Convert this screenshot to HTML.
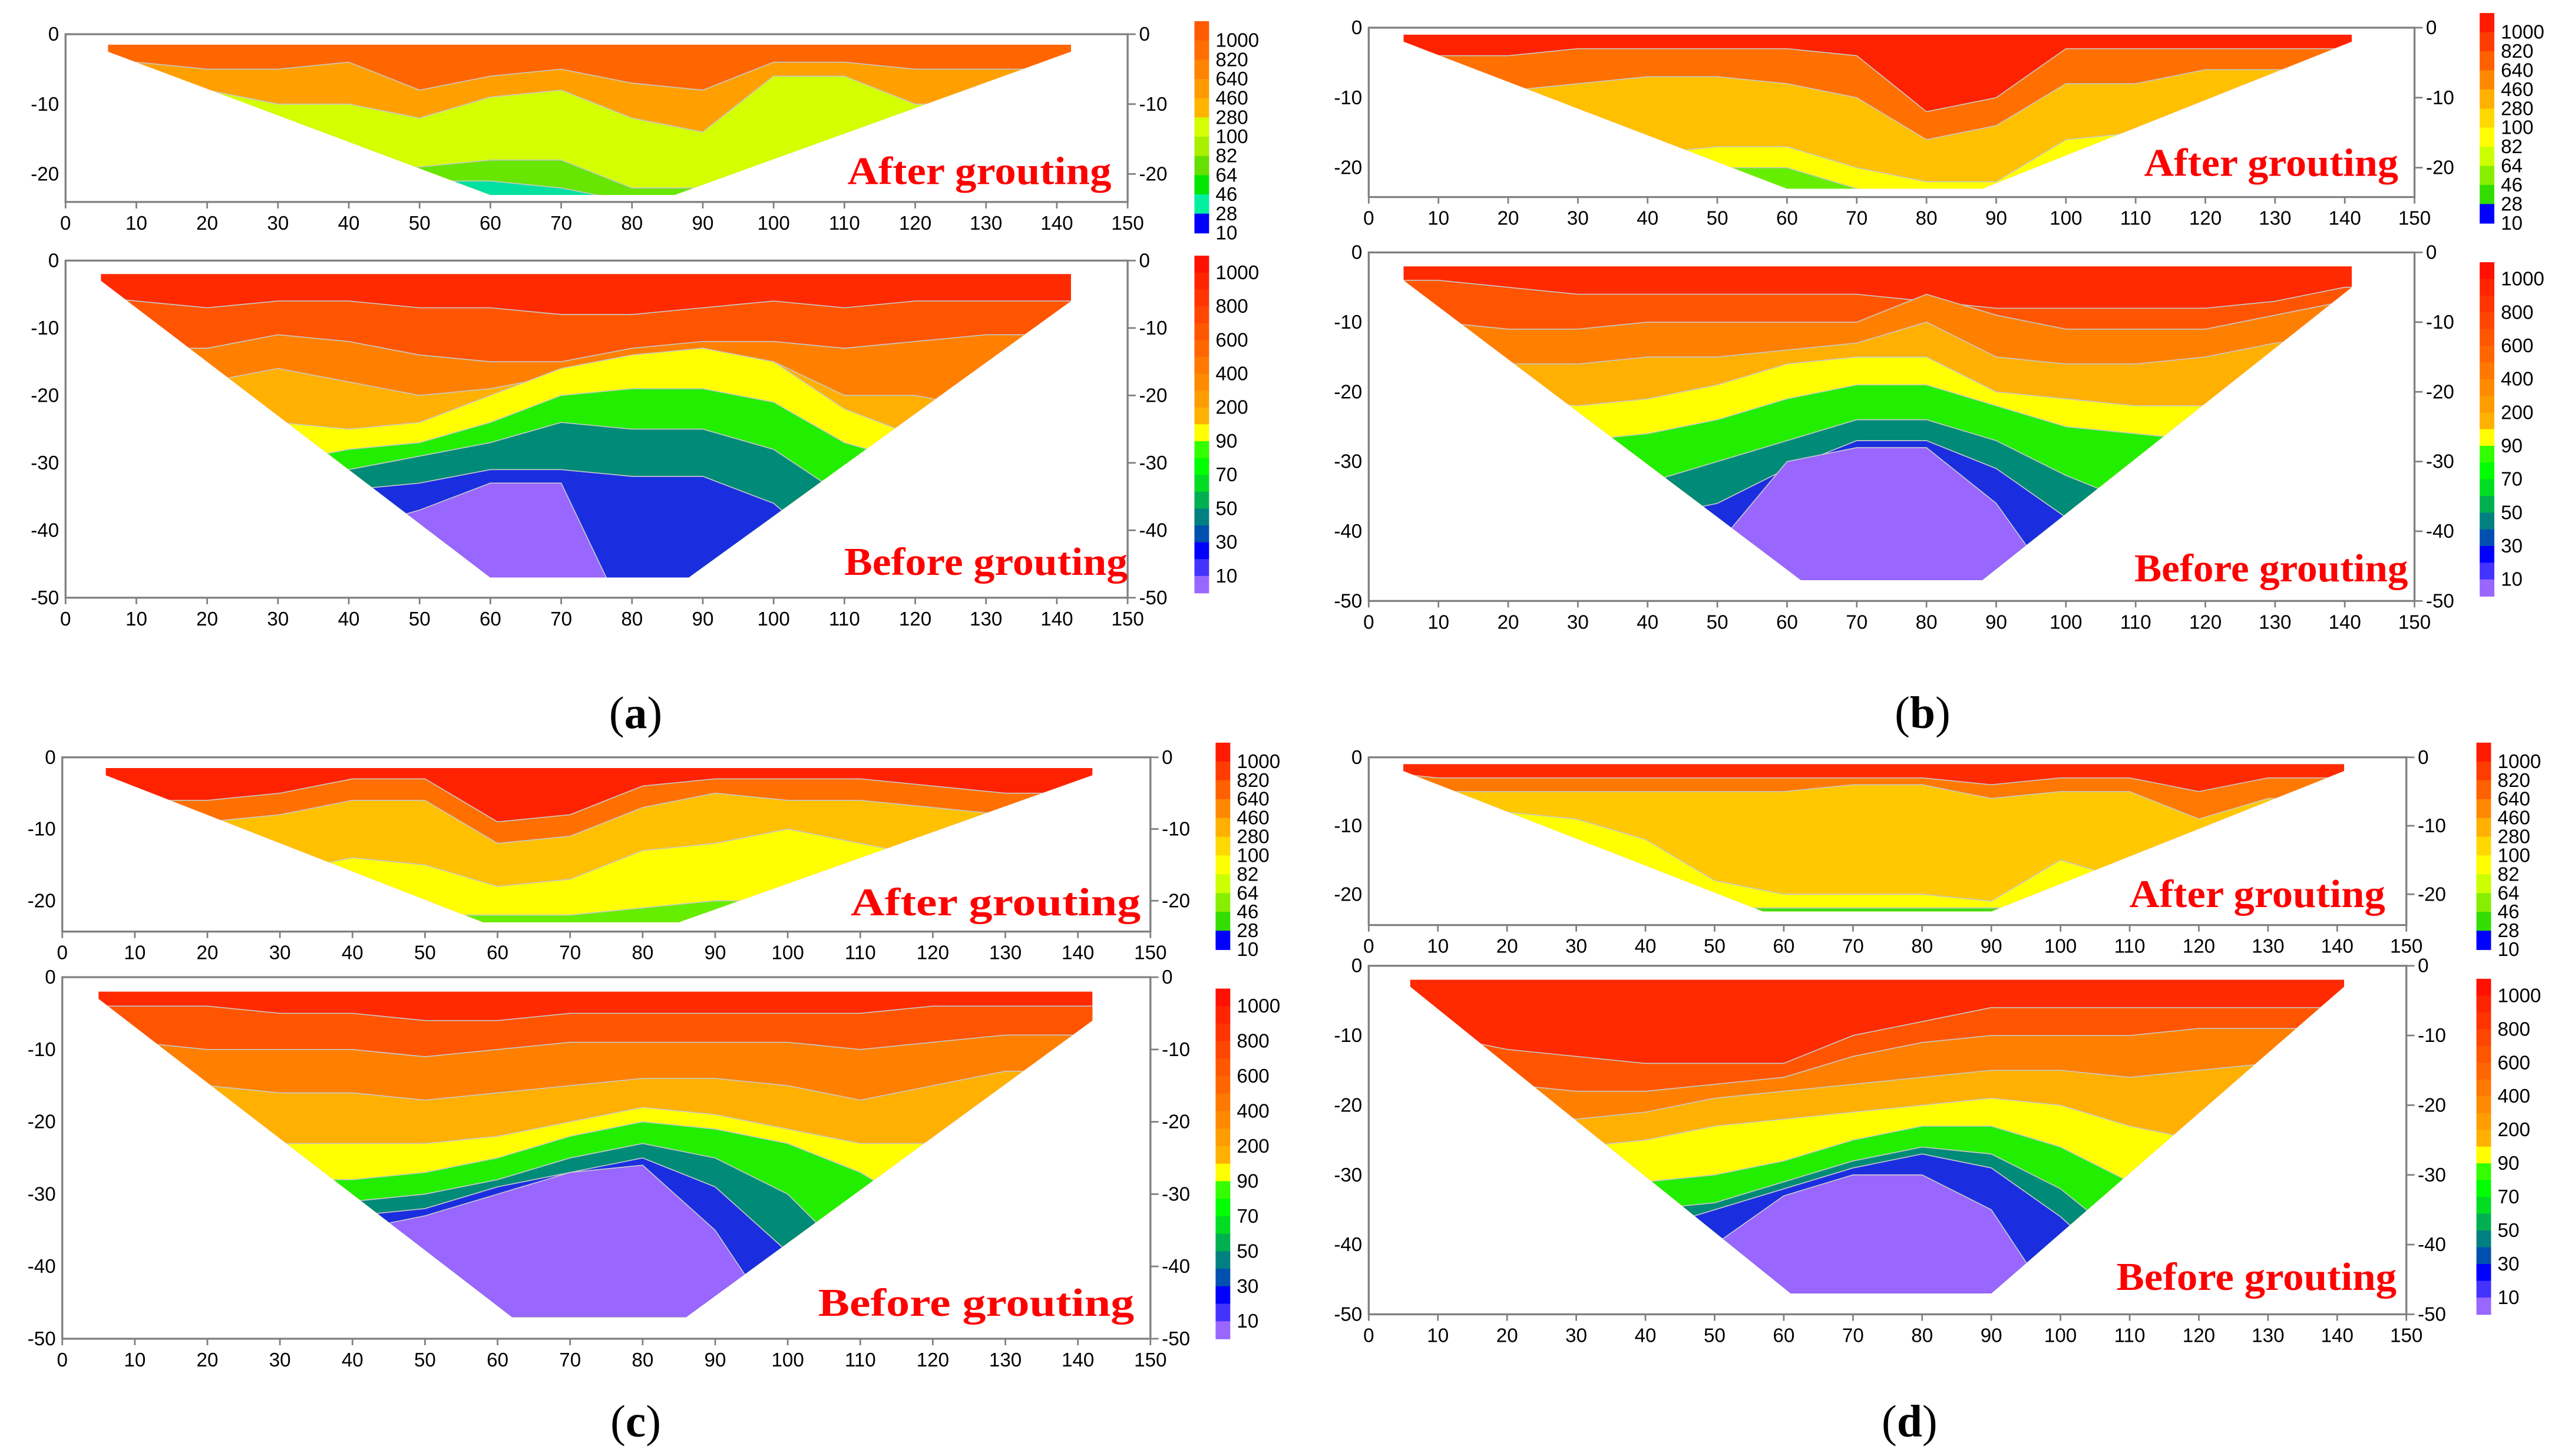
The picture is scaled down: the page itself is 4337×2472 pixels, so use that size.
<!DOCTYPE html>
<html><head><meta charset="utf-8"><style>
html,body{margin:0;padding:0;background:#fff;}
svg{display:block;}
</style></head><body>
<svg id="fig" xmlns="http://www.w3.org/2000/svg" width="4337" height="2472" viewBox="0 0 1568 894">
<rect x="0" y="0" width="1568" height="894" fill="#fff"/>
</svg>
<script>
const xTicks=[0,10,20,30,40,50,60,70,80,90,100,110,120,130,140,150];
const xSamples=[0,10,20,30,40,50,60,70,80,90,100,110,120,130,140,150];
const beforeYTicks=[0,-10,-20,-30,-40,-50];
const afterYTicks=[0,-10,-20];
const beforeLevels=["1000","800","600","400","200","90","70","50","30","10"];
const afterLevels=["1000","820","640","460","280","100","82","64","46","28","10"];
const beforeBarColors=["#ff1000","#ff2400","#ff3400","#ff4600","#ff5600","#ff6600","#ff7800","#ff8a00","#ff9c00","#ffb000","#ffff00","#33ff00","#00ff00","#00dd22","#00b050","#008080","#0050b0","#0000ff","#4433ff","#9966ff"];
const afterBarColorsA=["#ff5a00","#ff6e00","#ff8400","#ff9a00","#ffb400","#d4ff00","#a8f000","#66e000","#00e600","#00f0a0","#0000ff"];
const afterBarColorsB=["#ff1a00","#ff3c00","#ff6000","#ff8800","#ffb000","#ffd800","#ffff00","#ccff00","#88ee00","#33dd00","#0000ff"];
const beforeBandColors=["#ff2a00","#ff5500","#ff8000","#ffb000","#ffff00","#22ee00","#008a78","#1a2ee0","#9966ff"];
const afterBandColorsA=["#ff6600","#ffa000","#d4ff00","#66e600","#00e0a0"];
const afterBandColorsB=["#ff2200","#ff7000","#ffc000","#ffff00","#66ee00"];
const afterBandColorsC=["#ff2200","#ff7000","#ffc000","#ffff00","#66ee00"];
const afterBandColorsD=["#ff2a00","#ff7800","#ffc800","#ffff00","#44dd00"];

const beforeA=[
[-5,-6,-7,-6,-6,-7,-7,-8,-8,-7,-6,-7,-6,-6,-6,-6],
[-12,-13,-13,-11,-12,-14,-15,-15,-13,-12,-12,-13,-12,-11,-11,-11],
[-17,-18,-18,-16,-18,-20,-19,-17,-15,-14,-15,-20,-20,-22,-22,-22],
[-22,-23,-23,-24,-25,-24,-20,-16,-14,-13,-15,-22,-26,-27,-27,-27],
[-28,-29,-29,-30,-28,-27,-24,-20,-19,-19,-21,-27,-30,-33,-33,-33],
[-31,-32,-32,-32,-31,-29,-27,-24,-25,-25,-28,-35,-40,-45,-45,-45],
[-35,-35,-35,-35,-34,-33,-31,-31,-32,-32,-36,-45,-50,-50,-50,-50],
[-40,-40,-40,-40,-40,-37,-33,-33,-55,-55,-55,-55,-55,-55,-55,-55]];
const beforeB=[
[-4,-4,-5,-6,-6,-6,-6,-6,-7,-8,-8,-8,-8,-7,-5,-5],
[-9,-10,-11,-11,-10,-10,-10,-10,-6,-9,-11,-11,-11,-9,-7,-7],
[-14,-15,-16,-16,-15,-15,-14,-13,-10,-15,-16,-16,-15,-13,-12,-12],
[-19,-20,-21,-22,-21,-19,-16,-15,-15,-20,-21,-22,-22,-20,-20,-20],
[-26,-27,-27,-27,-26,-24,-21,-19,-19,-22,-25,-26,-27,-27,-27,-27],
[-34,-34,-34,-34,-33,-30,-27,-24,-24,-27,-32,-36,-40,-40,-40,-40],
[-42,-42,-42,-40,-38,-36,-31,-27,-27,-31,-38,-44,-50,-50,-50,-50],
[-50,-50,-50,-50,-48,-42,-30,-28,-28,-36,-50,-50,-50,-50,-50,-50]];
const beforeC=[
[-4,-4,-4,-5,-5,-6,-6,-5,-5,-5,-5,-5,-4,-4,-4,-4],
[-8,-9,-10,-10,-10,-11,-10,-9,-9,-9,-9,-10,-9,-8,-8,-8],
[-13,-14,-15,-16,-16,-17,-16,-15,-14,-14,-15,-17,-15,-13,-13,-13],
[-22,-23,-23,-23,-23,-23,-22,-20,-18,-19,-21,-23,-23,-23,-23,-23],
[-28,-28,-28,-28,-28,-27,-25,-22,-20,-21,-23,-27,-33,-33,-33,-33],
[-31,-31,-31,-31,-31,-30,-28,-25,-23,-25,-30,-40,-50,-50,-50,-50],
[-33,-33,-33,-33,-33,-32,-29,-27,-25,-29,-38,-50,-50,-50,-50,-50],
[-35,-35,-35,-35,-35,-33,-30,-27,-26,-35,-50,-50,-50,-50,-50,-50]];
const beforeD=[
[-8,-10,-12,-13,-14,-14,-14,-10,-8,-6,-6,-6,-6,-6,-6,-6],
[-14,-15,-17,-18,-18,-17,-16,-13,-11,-10,-10,-10,-9,-9,-9,-9],
[-20,-20,-21,-22,-21,-19,-18,-17,-16,-15,-15,-16,-15,-14,-14,-14],
[-27,-27,-27,-26,-25,-23,-22,-21,-20,-19,-20,-23,-25,-25,-25,-25],
[-31,-31,-31,-31,-31,-30,-28,-25,-23,-23,-26,-31,-33,-33,-33,-33],
[-35,-35,-35,-35,-35,-34,-31,-28,-26,-27,-32,-40,-45,-45,-45,-45],
[-42,-42,-42,-40,-38,-35,-32,-29,-27,-29,-36,-45,-50,-50,-50,-50],
[-50,-50,-50,-48,-44,-40,-33,-30,-30,-35,-50,-50,-50,-50,-50,-50]];
const afterA=[
[-3,-4,-5,-5,-4,-8,-6,-5,-7,-8,-4,-4,-5,-5,-5,-5],
[-6,-7,-8,-10,-10,-12,-9,-8,-12,-14,-6,-6,-10,-10,-10,-10],
[-15,-16,-17,-18,-19,-19,-18,-18,-22,-22,-20,-22,-22,-22,-22,-22],
[-22,-22,-22,-22,-22,-21,-21,-22,-24,-24,-24,-24,-24,-24,-24,-24]];
const afterB=[
[-3,-4,-4,-3,-3,-3,-3,-4,-12,-10,-3,-3,-3,-3,-3,-3],
[-6,-7,-9,-8,-7,-7,-8,-10,-16,-14,-8,-8,-6,-6,-6,-6],
[-14,-15,-17,-18,-18,-17,-17,-20,-22,-22,-16,-15,-15,-15,-15,-15],
[-22,-22,-22,-22,-22,-20,-20,-23,-24,-24,-24,-24,-24,-24,-24,-24]];
const afterC=[
[-4,-6,-6,-5,-3,-3,-9,-8,-4,-3,-3,-3,-4,-5,-5,-5],
[-8,-9,-9,-8,-6,-6,-12,-11,-7,-5,-6,-6,-7,-8,-8,-8],
[-14,-15,-15,-16,-14,-15,-18,-17,-13,-12,-10,-12,-14,-14,-14,-14],
[-22,-22,-22,-22,-22,-22,-22,-22,-21,-20,-20,-21,-22,-22,-22,-22]];
const afterD=[
[-2,-3,-3,-3,-3,-3,-3,-3,-3,-4,-3,-3,-5,-3,-3,-3],
[-4,-5,-5,-5,-5,-5,-5,-4,-4,-6,-5,-5,-9,-6,-6,-6],
[-8,-8,-8,-9,-12,-18,-20,-20,-20,-21,-15,-18,-20,-20,-20,-20],
[-12,-12,-14,-16,-20,-22,-22,-22,-22,-22,-22,-20,-22,-22,-22,-22]];

const maskBeforeA=[[5,-2],[142,-2],[142,-6],[88,-47],[60,-47],[5,-3]];
const maskBeforeB=[[5,-2],[141,-2],[141,-5],[88,-47],[62,-47],[5,-4]];
const maskBeforeC=[[5,-2],[142,-2],[142,-6],[86,-47],[62,-47],[5,-3]];
const maskBeforeD=[[6,-2],[141,-2],[141,-3],[90,-47],[61,-47],[6,-3]];
const maskAfterA=[[6,-1.5],[142,-1.5],[142,-2.5],[86,-23],[60,-23],[6,-2.5]];
const maskAfterB=[[5,-1],[141,-1],[141,-2],[88,-23],[60,-23],[5,-2]];
const maskAfterC=[[6,-1.5],[142,-1.5],[142,-2.5],[85,-23],[58,-23],[6,-2.5]];
const maskAfterD=[[5,-1],[141,-1],[141,-2],[90,-22.5],[57,-22.5],[5,-2]];

const layout={
a:{x0:40,x1:692,after:{y0:21,yb:124,ymin:-24},before:{y0:160,yb:367,ymin:-50},cb:{x:733,aTop:13,aBot:143,bTop:157,bBot:364},cap:[390,447],tA:[520,113,162],tB:[518,353,174]},
b:{x0:840,x1:1482,after:{y0:17,yb:121,ymin:-24.2},before:{y0:155,yb:369,ymin:-50},cb:{x:1522,aTop:8,aBot:137,bTop:161,bBot:366},cap:[1180,447],tA:[1316,108,156],tB:[1310,357,168]},
c:{x0:38,x1:706,after:{y0:465,yb:572,ymin:-24.3},before:{y0:600,yb:822,ymin:-50},cb:{x:746,aTop:456,aBot:583,bTop:607,bBot:822},cap:[390,882],tA:[522,562,178],tB:[502,808,194]},
d:{x0:840,x1:1477,after:{y0:465,yb:568,ymin:-24.5},before:{y0:593,yb:807,ymin:-50},cb:{x:1520,aTop:456,aBot:583,bTop:601,bBot:807},cap:[1172,882],tA:[1307,557,157],tB:[1299,792,172]}};

const panels=[
{id:'a',before:beforeA,after:afterA,mB:maskBeforeA,mA:maskAfterA,aCols:afterBandColorsA,aBar:afterBarColorsA},
{id:'b',before:beforeB,after:afterB,mB:maskBeforeB,mA:maskAfterB,aCols:afterBandColorsB,aBar:afterBarColorsB},
{id:'c',before:beforeC,after:afterC,mB:maskBeforeC,mA:maskAfterC,aCols:afterBandColorsC,aBar:afterBarColorsB},
{id:'d',before:beforeD,after:afterD,mB:maskBeforeD,mA:maskAfterD,aCols:afterBandColorsD,aBar:afterBarColorsB}];

const NS='http://www.w3.org/2000/svg';
const svg=document.getElementById('fig');
function el(tag,parent){const e=document.createElementNS(NS,tag);parent.appendChild(e);return e;}
const defs=el('defs',svg);
const FONT='"Liberation Sans Narrow","Liberation Sans",sans-serif';

function drawPlot(p,L,kind){
  const g=el('g',svg);
  
  
  const lay=L[kind];
  const X=v=>L.x0+(v-0)/150*(L.x1-L.x0);
  const Y=v=>lay.y0+(v/lay.ymin)*(lay.yb-lay.y0);
  const mask=kind==='before'?p.mB:p.mA;
  const bands=kind==='before'?p.before:p.after;
  const cols=kind==='before'?beforeBandColors:p.aCols;
  const cp=el('clipPath',defs);cp.setAttribute('id','clip-'+kind+p.id);
  const cpp=el('polygon',cp);cpp.setAttribute('points',mask.map(q=>X(q[0])+','+Y(q[1])).join(' '));
  const cg=el('g',g);cg.setAttribute('clip-path','url(#clip-'+kind+p.id+')');
  
  
  const base=el('rect',cg);base.setAttribute('x',X(0));base.setAttribute('y',Y(0));base.setAttribute('width',X(150)-X(0));base.setAttribute('height',Y(lay.ymin)-Y(0));base.setAttribute('fill',cols[0]);
  
  
  bands.forEach((b,i)=>{
    const pts=xSamples.map((x,k)=>X(x)+','+Y(b[k]));
    pts.push(X(150)+','+Y(lay.ymin*1.3));pts.push(X(0)+','+Y(lay.ymin*1.3));
    const poly=el('polygon',cg);poly.setAttribute('points',pts.join(' '));poly.setAttribute('fill',cols[i+1]);
    poly.setAttribute('stroke','#c8c8c8');poly.setAttribute('stroke-width','0.6');
    
    
  });
  const fr=el('rect',g);fr.setAttribute('x',X(0));fr.setAttribute('y',Y(0));fr.setAttribute('width',X(150)-X(0));fr.setAttribute('height',lay.yb-lay.y0);
  fr.setAttribute('fill','none');fr.setAttribute('stroke','#808080');fr.setAttribute('stroke-width','1.2');
  
  
  xTicks.forEach(t=>{
    const tk=el('line',g);tk.setAttribute('x1',X(t));tk.setAttribute('x2',X(t));tk.setAttribute('y1',lay.yb);tk.setAttribute('y2',lay.yb+4);tk.setAttribute('stroke','#808080');
    
    
    const tx=el('text',g);tx.textContent=t;tx.setAttribute('x',X(t));tx.setAttribute('y',lay.yb+17);tx.setAttribute('text-anchor','middle');
    tx.setAttribute('font-size','12');tx.setAttribute('font-family',FONT);
    
    
  });
  const yt=kind==='before'?beforeYTicks:afterYTicks;
  yt.forEach(t=>{
    const l=el('text',g);l.textContent=t;l.setAttribute('x',X(0)-4);l.setAttribute('y',Y(t)+4);l.setAttribute('text-anchor','end');
    l.setAttribute('font-size','12');l.setAttribute('font-family',FONT);
    
    
    const tk=el('line',g);tk.setAttribute('x1',X(150));tk.setAttribute('x2',X(150)+5);tk.setAttribute('y1',Y(t));tk.setAttribute('y2',Y(t));tk.setAttribute('stroke','#808080');
    
    
    const r=el('text',g);r.textContent=t;r.setAttribute('x',X(150)+7);r.setAttribute('y',Y(t)+4);
    r.setAttribute('font-size','12');r.setAttribute('font-family',FONT);
    
    
  });
  const t=kind==='before'?L.tB:L.tA;
  const title=el('text',g);title.textContent=kind==='before'?'Before grouting':'After grouting';
  title.setAttribute('x',t[0]);title.setAttribute('y',t[1]);title.setAttribute('textLength',t[2]);title.setAttribute('lengthAdjust','spacingAndGlyphs');
  title.setAttribute('font-size','24');title.setAttribute('font-weight','bold');title.setAttribute('fill','#ff0000');title.setAttribute('font-family','"Liberation Serif",serif');
  
  
}

function drawBar(p,L,kind){
  const g=el('g',svg);
  
  
  const top=kind==='before'?L.cb.bTop:L.cb.aTop, bot=kind==='before'?L.cb.bBot:L.cb.aBot;
  const cols=kind==='before'?beforeBarColors:p.aBar;
  const labels=kind==='before'?beforeLevels:afterLevels;
  const seg=(bot-top)/cols.length;
  cols.forEach((c,i)=>{
    const r=el('rect',g);r.setAttribute('x',L.cb.x);r.setAttribute('y',top+i*seg);r.setAttribute('width',9);r.setAttribute('height',seg+0.3);r.setAttribute('fill',c);
    
    
  });
  labels.forEach((lb,i)=>{
    const yy=kind==='before'?top+seg*(1+2*i):top+seg*(i+1);
    const t=el('text',g);t.textContent=lb;t.setAttribute('x',L.cb.x+13);t.setAttribute('y',Math.min(yy,bot)+4);
    t.setAttribute('font-size','12');t.setAttribute('font-family',FONT);
    
    
  });
}

panels.forEach(p=>{
  const L=layout[p.id];
  drawPlot(p,L,'after');drawPlot(p,L,'before');
  drawBar(p,L,'after');drawBar(p,L,'before');
  const cap=el('text',svg);
  cap.setAttribute('x',L.cap[0]);cap.setAttribute('y',L.cap[1]);cap.setAttribute('text-anchor','middle');
  cap.setAttribute('font-size','28');cap.setAttribute('font-family','"Liberation Serif",serif');
  
  
  const a=el('tspan',cap);a.textContent='(';
  const b=el('tspan',cap);b.textContent=p.id;b.setAttribute('font-weight','bold');
  const c=el('tspan',cap);c.textContent=')';
});
</script>
</body></html>
